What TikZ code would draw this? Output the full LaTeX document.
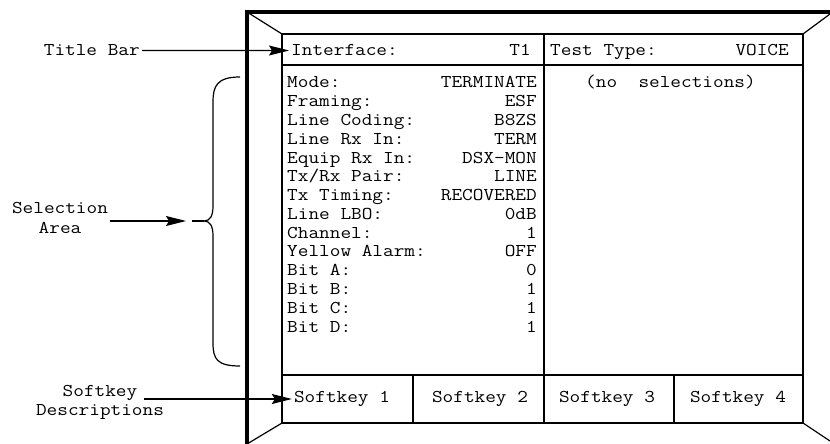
\documentclass[tikz,border=0pt]{standalone}
\usepackage{fontspec}
\setmonofont[FakeStretch=1.15]{Latin Modern Mono}
\usetikzlibrary{arrows.meta}

\begin{document}
\begin{tikzpicture}[
  x=1pt, y=-1pt,
  every node/.style={font=\ttfamily\fontsize{18}{20}\selectfont,
                     inner sep=2pt, align=center},
  arr/.style={-{Stealth[length=20pt, width=10pt, inset=3pt]}, line width=1.2pt},
  bezel/.style={line width=4.5pt},
  thinline/.style={line width=1.2pt},
  rule/.style={line width=2.6pt},
]
  \useasboundingbox (0,0) rectangle (830,444);

  % bezel and screen
  \draw[bezel] (247,448) -- (247,12) -- (834,12);
  \draw[thinline] (247,12) -- (282,34);
  \draw[thinline] (803,34) -- (830,14);
  \draw[thinline] (282,423) -- (247,444);
  \draw[thinline] (803,423) -- (830,441);
  \draw[thinline] (282,34) rectangle (803,423);
  \draw[rule] (282,65) -- (803,65);
  \draw[rule] (282,375) -- (803,375);
  \draw[rule] (544,34) -- (544,375);
  \draw[thinline] (413,375) -- (413,423);
  \draw[thinline] (544,375) -- (544,423);
  \draw[thinline] (674,375) -- (674,423);

  % title bar
  \node[anchor=base west] (iface) at (289,56) {Interface:};
  \node[anchor=base east] (ifval) at (533,56) {T1};
  \node[anchor=base west] (ttype) at (548,56) {Test Type:};
  \node[anchor=base east] (ttval) at (791,56) {VOICE};

  % selection area
  \foreach \lbl/\val [count=\i from 0] in {Mode:/TERMINATE, Framing:/ESF,
      Line Coding:/B8ZS, Line Rx In:/TERM, Equip Rx In:/DSX-MON,
      {Tx/Rx Pair:}/LINE, Tx Timing:/RECOVERED, Line LBO:/0dB,
      Channel:/1, Yellow Alarm:/OFF, Bit A:/0, Bit B:/1, Bit C:/1, Bit D:/1}
  {
    \node[anchor=base west] (lbl\i) at (285,{88+18.77*\i}) {\lbl};
    \node[anchor=base east] (val\i) at (539,{88+18.77*\i}) {\val};
  }
  \node[anchor=base west] (nosel) at (583,88) {(no~~selections)};

  % softkeys
  \node (sk1) at (342,399) {Softkey 1};
  \node (sk2) at (480,399) {Softkey 2};
  \node (sk3) at (607,399) {Softkey 3};
  \node (sk4) at (738,399) {Softkey 4};

  % callouts
  \node[anchor=base east] (tbar) at (142,56) {Title Bar};
  \node (sel) at (60,218) {Selection\\Area};
  \node (skey) at (100,393) {Softkey};
  \node (skdesc) at (100,412) {Descriptions};
  \coordinate (selarr) at (186,221);

  \draw[arr] (tbar.east) -- (iface.west);
  \draw[arr] (sel.east |- selarr) -- (selarr);
  \draw[arr, shorten <=4pt] (skey.east |- sk1.west) -- (sk1.west);

  % brace
  \draw[thinline] (192,221) -- (204,221);
  \draw[thinline] (240,77) .. controls (217,77) and (213,86) .. (213,102)
    -- (213,206) .. controls (213,216) and (210,221) .. (204,221)
    .. controls (210,221) and (213,226) .. (213,236)
    -- (213,343) .. controls (213,359) and (217,366) .. (240,366);
\end{tikzpicture}
\end{document}
